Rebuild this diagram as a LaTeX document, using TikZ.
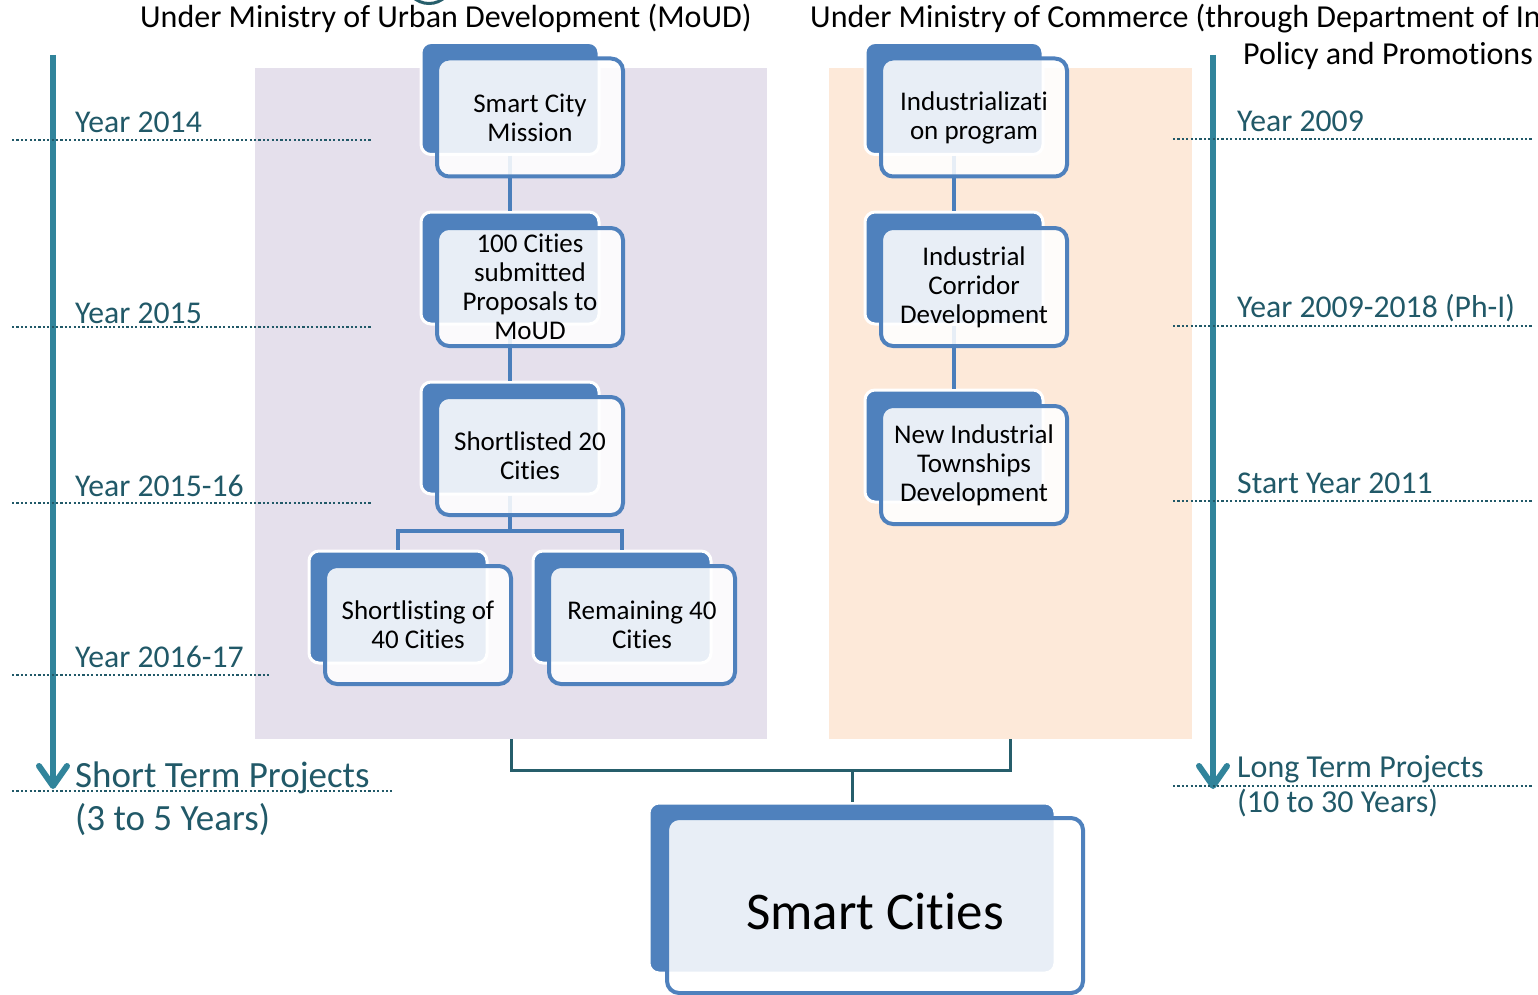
\documentclass[tikz,border=0pt]{standalone}
\usepackage{fontspec}
\setmainfont{Carlito}[Ligatures=NoCommon]
\usetikzlibrary{arrows.meta}
\definecolor{boxblue}{HTML}{4F81BD}
\definecolor{connblue}{HTML}{4A7EBB}
\definecolor{tealarrow}{HTML}{31849B}
\definecolor{tealtext}{HTML}{215968}
\definecolor{purplebg}{HTML}{E5E0EC}
\definecolor{peachbg}{HTML}{FDE9D9}
\definecolor{darkline}{HTML}{265E6B}
\tikzset{
  backbox/.style={draw=white, line width=3pt, fill=boxblue, rounded corners=10pt,
    minimum width=178pt, minimum height=112pt, inner sep=0pt},
  frontbox/.style={draw=boxblue, line width=4pt, fill=white, fill opacity=0.87, text opacity=1,
    rounded corners=12pt, minimum width=186pt, minimum height=118pt, inner sep=0pt,
    align=center, font=\fontsize{27}{29}\selectfont},
  conn/.style={draw=connblue, line width=4pt},
  darkconn/.style={draw=darkline, line width=3pt},
  dotline/.style={draw=tealtext, line width=2.2pt, dash pattern=on 2.2pt off 2.2pt},
  tlarrow/.style={draw=tealarrow, line width=6pt,
    -{Straight Barb[length=20pt,width=28pt,line cap=round,line join=round]}},
  yeartext/.style={text=tealtext, font=\fontsize{31.7}{35}\selectfont, anchor=base west, inner sep=0pt},
  titletext/.style={text=black, font=\fontsize{32}{35}\selectfont, inner sep=0pt},
}
\begin{document}
\begin{tikzpicture}[x=1pt,y=-1pt]
\useasboundingbox[fill=white] (0,0) rectangle (1538,995);

% backgrounds
\node[fill=purplebg, minimum width=512pt, minimum height=671pt, inner sep=0pt, anchor=north west] (lbg) at (255,68) {};
\node[fill=peachbg, minimum width=363pt, minimum height=671pt, inner sep=0pt, anchor=north west] (rbg) at (829,68) {};

% partial ring at the top edge
\draw[draw=darkline, line width=3pt] (429,-20) circle (23.5);

% left timeline
\coordinate (ltop) at (53,55);
\coordinate (lbot) at (53,789);
\draw[tlarrow] (ltop) -- (lbot);
\coordinate (d1a) at (12,140); \coordinate (d1b) at (372,140);
\coordinate (d2a) at (12,327); \coordinate (d2b) at (372,327);
\coordinate (d3a) at (12,503); \coordinate (d3b) at (372,503);
\coordinate (d4a) at (12,675); \coordinate (d4b) at (270,675);
\coordinate (d5a) at (12,791); \coordinate (d5b) at (392,791);
\foreach \i in {1,...,5} {\draw[dotline] (d\i a) -- (d\i b);}
\node[yeartext] (y1) at (75,133) {Year 2014};
\node[yeartext] (y2) at (75,323) {Year 2015};
\node[yeartext] (y3) at (75,496) {Year 2015-16};
\node[yeartext] (y4) at (75,667) {Year 2016-17};
\node[yeartext, font=\fontsize{37}{43}\selectfont] (st1) at (75,787) {Short Term Projects};
\node[yeartext, font=\fontsize{37}{43}\selectfont] (st2) at (75,830) {(3 to 5 Years)};

% right timeline
\coordinate (rtop) at (1213,55);
\coordinate (rbot) at (1213,789);
\draw[tlarrow] (rtop) -- (rbot);
\coordinate (e1a) at (1173,139); \coordinate (e1b) at (1533,139);
\coordinate (e2a) at (1173,326); \coordinate (e2b) at (1533,326);
\coordinate (e3a) at (1173,501); \coordinate (e3b) at (1533,501);
\coordinate (e4a) at (1173,786); \coordinate (e4b) at (1533,786);
\foreach \i in {1,...,4} {\draw[dotline] (e\i a) -- (e\i b);}
\node[yeartext] (z1) at (1237,132) {Year 2009};
\node[yeartext] (z2) at (1237,317) {Year 2009-2018 (Ph-I)};
\node[yeartext] (z3) at (1237,493) {Start Year 2011};
\node[yeartext, font=\fontsize{32}{35}\selectfont] (lt1) at (1237,777) {Long Term Projects};
\node[yeartext, font=\fontsize{32}{35}\selectfont] (lt2) at (1237,812) {(10 to 30 Years)};

% back boxes
\node[backbox] (b1back) at (510,98.5) {};
\node[backbox] (b2back) at (510,268) {};
\node[backbox] (b3back) at (510,438) {};
\node[backbox] (b4back) at (398,607) {};
\node[backbox] (b5back) at (622,607) {};
\node[backbox] (b6back) at (954,98.5) {};
\node[backbox] (b7back) at (954,268) {};
\node[backbox] (b8back) at (954,446) {};
\node[backbox, minimum width=406pt, minimum height=170pt] (bigback) at (852,888) {};

% connectors
\draw[conn] (b1back.south) -- (b2back.north);
\draw[conn] (b2back.south) -- (b3back.north);
\coordinate (split) at (510,531);
\draw[conn] (b3back.south) -- (split);
\draw[conn] (b4back.north) |- (split) -| (b5back.north);
\draw[conn] (b6back.south) -- (b7back.north);
\draw[conn] (b7back.south) -- (b8back.north);
\coordinate (mid) at (852,770);
\draw[darkconn] (lbg.south) |- (mid) -| (rbg.south);
\draw[darkconn] (mid) -- (bigback.north);

% front boxes
\node[frontbox] (b1) at (530,117.5) {Smart City\\Mission};
\node[frontbox] (b2) at (530,287) {100 Cities\\submitted\\Proposals to\\MoUD};
\node[frontbox] (b3) at (530,456) {Shortlisted 20\\Cities};
\node[frontbox] (b4) at (418,625) {Shortlisting of\\40 Cities};
\node[frontbox] (b5) at (642,625) {Remaining 40\\Cities};
\node[frontbox] (b6) at (974,117.5) {Industrializati\\on program};
\node[frontbox] (b7) at (974,287) {Industrial\\Corridor\\Development};
\node[frontbox] (b8) at (974,465) {New Industrial\\Townships\\Development};
\node[frontbox, minimum width=416pt, minimum height=175pt] (big) at (875,905.5) {};
\node[font=\fontsize{53}{60}\selectfont, inner sep=0pt] (bigtext) at (875,911) {Smart Cities};

% titles
\node[titletext, anchor=base west] (t1) at (140,28) {Under Ministry of Urban Development (MoUD)};
\node[titletext, anchor=base west] (t2) at (810,28) {Under Ministry of Commerce (through Department of In};
\node[titletext, anchor=base east] (t3) at (1533,65) {Policy and Promotions};
\end{tikzpicture}
\end{document}
